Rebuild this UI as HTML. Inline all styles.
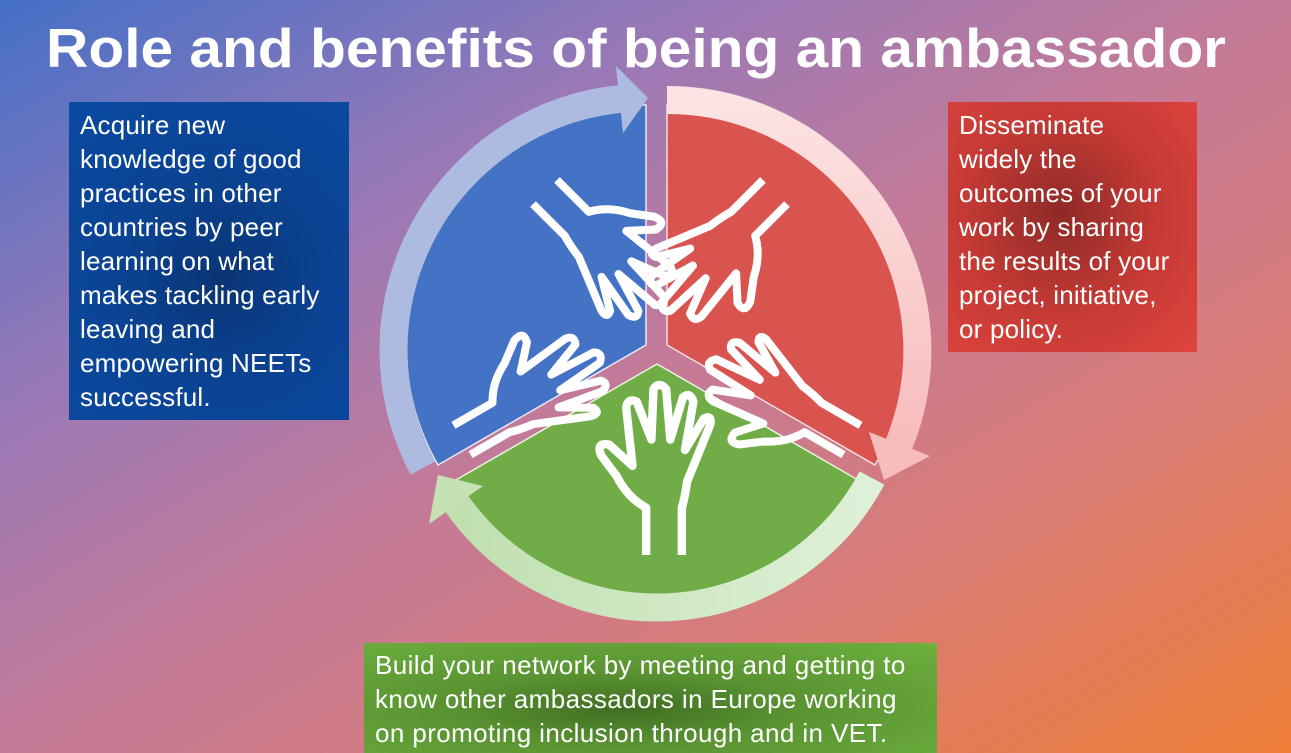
<!DOCTYPE html>
<html><head><meta charset="utf-8"><style>
html,body{margin:0;padding:0}
body{width:1291px;height:753px;overflow:hidden;position:relative;font-family:"Liberation Sans",sans-serif;
background:linear-gradient(to bottom right,#4470c8 0%,#9a79b6 28%,#c47a98 50%,#d87c78 72%,#ee7d36 100%);}
.box{position:absolute;color:#fff;font-size:26px;letter-spacing:0.2px;line-height:34px;box-sizing:border-box;white-space:nowrap}
#b1{left:69px;top:102px;width:280px;height:318px;padding:6px 0 0 11px;background:radial-gradient(circle at 55% 55%,#0a3575 0%,#0b4393 45%,#0a4aa2 100%)}
#b2{left:948px;top:102px;width:249px;height:250px;padding:6px 0 0 11px;background:radial-gradient(circle at 45% 45%,#8e2a26 0%,#c53a35 50%,#e0443e 100%)}
#b3{left:364px;top:643px;width:573px;height:110px;padding:5px 0 0 11px;font-size:26px;letter-spacing:0.4px;background:radial-gradient(ellipse at 45% 60%,#3f6e22 0%,#5a9432 40%,#6db13e 100%)}
svg{position:absolute;left:0;top:0}
</style></head><body>
<svg width="1291" height="753" viewBox="0 0 1291 753">
<defs>
<linearGradient id="gr" x1="0" y1="0" x2="0" y2="1"><stop offset="0" stop-color="#fde3e3"/><stop offset="1" stop-color="#f7bcbc"/></linearGradient>
<linearGradient id="gg" x1="1" y1="0" x2="0" y2="0"><stop offset="0" stop-color="#dff0d8"/><stop offset="1" stop-color="#c0e0b0"/></linearGradient>
<path id="hand" d="M-17,0 L-17,-45 Q-35,-55 -45,-75 L-60,-95 Q-65,-108 -52,-105 L-30,-85 L-36,-140 Q-35,-150 -26,-146 L-12,-110 L-10,-158 Q-5,-166 2,-158 L6,-110 L18,-150 Q25,-156 28,-146 L20,-100 L38,-130 Q46,-134 44,-124 L22,-70 Q20,-55 17,-45 L17,0" fill="none" stroke="#fff" stroke-width="8" stroke-linejoin="round" stroke-linecap="butt"/>
</defs>
<text x="636" y="67" text-anchor="middle" font-family="Liberation Sans, sans-serif" font-weight="bold" font-size="55" fill="#fff" textLength="1180" lengthAdjust="spacingAndGlyphs">Role and benefits of being an ambassador</text>
<path d="M646,345 L646,105 A240,240 0 0 0 438,465 Z" fill="#4472c4" stroke="#e8e8f4" stroke-width="1.5"/>
<path d="M667,345 L667,105 A240,240 0 0 1 875,465 Z" fill="#d9534f" stroke="#f4e0e0" stroke-width="1.5"/>
<path d="M657,364 L865,484 A240,240 0 0 1 449,484 Z" fill="#70ad47" stroke="#e8f4e0" stroke-width="1.5"/>
<path d="M423,468 A252,252 0 0 1 620,99" fill="none" stroke="#adbbe0" stroke-width="28"/>
<polygon points="623,133 616,66 648,98" fill="#adbbe0"/>
<path d="M667,100 A250,250 0 0 1 899,444" fill="none" stroke="url(#gr)" stroke-width="28"/>
<polygon points="869,432 930,456 884,480" fill="#f7bcbc"/>
<path d="M872,478 A244,244 0 0 1 457,504" fill="none" stroke="url(#gg)" stroke-width="28"/>
<polygon points="483,486 429,524 438,475" fill="#c4e2b4"/>
<use href="#hand" transform="translate(664,555) scale(1.05)"/>
<use href="#hand" transform="translate(545,192) rotate(135) scale(1.0)"/>
<use href="#hand" transform="translate(775,192) rotate(-135) scale(1.0)"/>
<use href="#hand" transform="translate(462,440) rotate(60) scale(1.0)"/>
<use href="#hand" transform="translate(852,440) rotate(-60) scale(1.0)"/>
</svg>
<div class="box" id="b1">Acquire new<br>knowledge of good<br>practices in other<br>countries by peer<br>learning on what<br>makes tackling early<br>leaving and<br>empowering NEETs<br>successful.</div>
<div class="box" id="b2">Disseminate<br>widely the<br>outcomes of your<br>work by sharing<br>the results of your<br>project, initiative,<br>or policy.</div>
<div class="box" id="b3">Build your network by meeting and getting to<br>know other ambassadors in Europe working<br>on promoting inclusion through and in VET.</div>
</body></html>
